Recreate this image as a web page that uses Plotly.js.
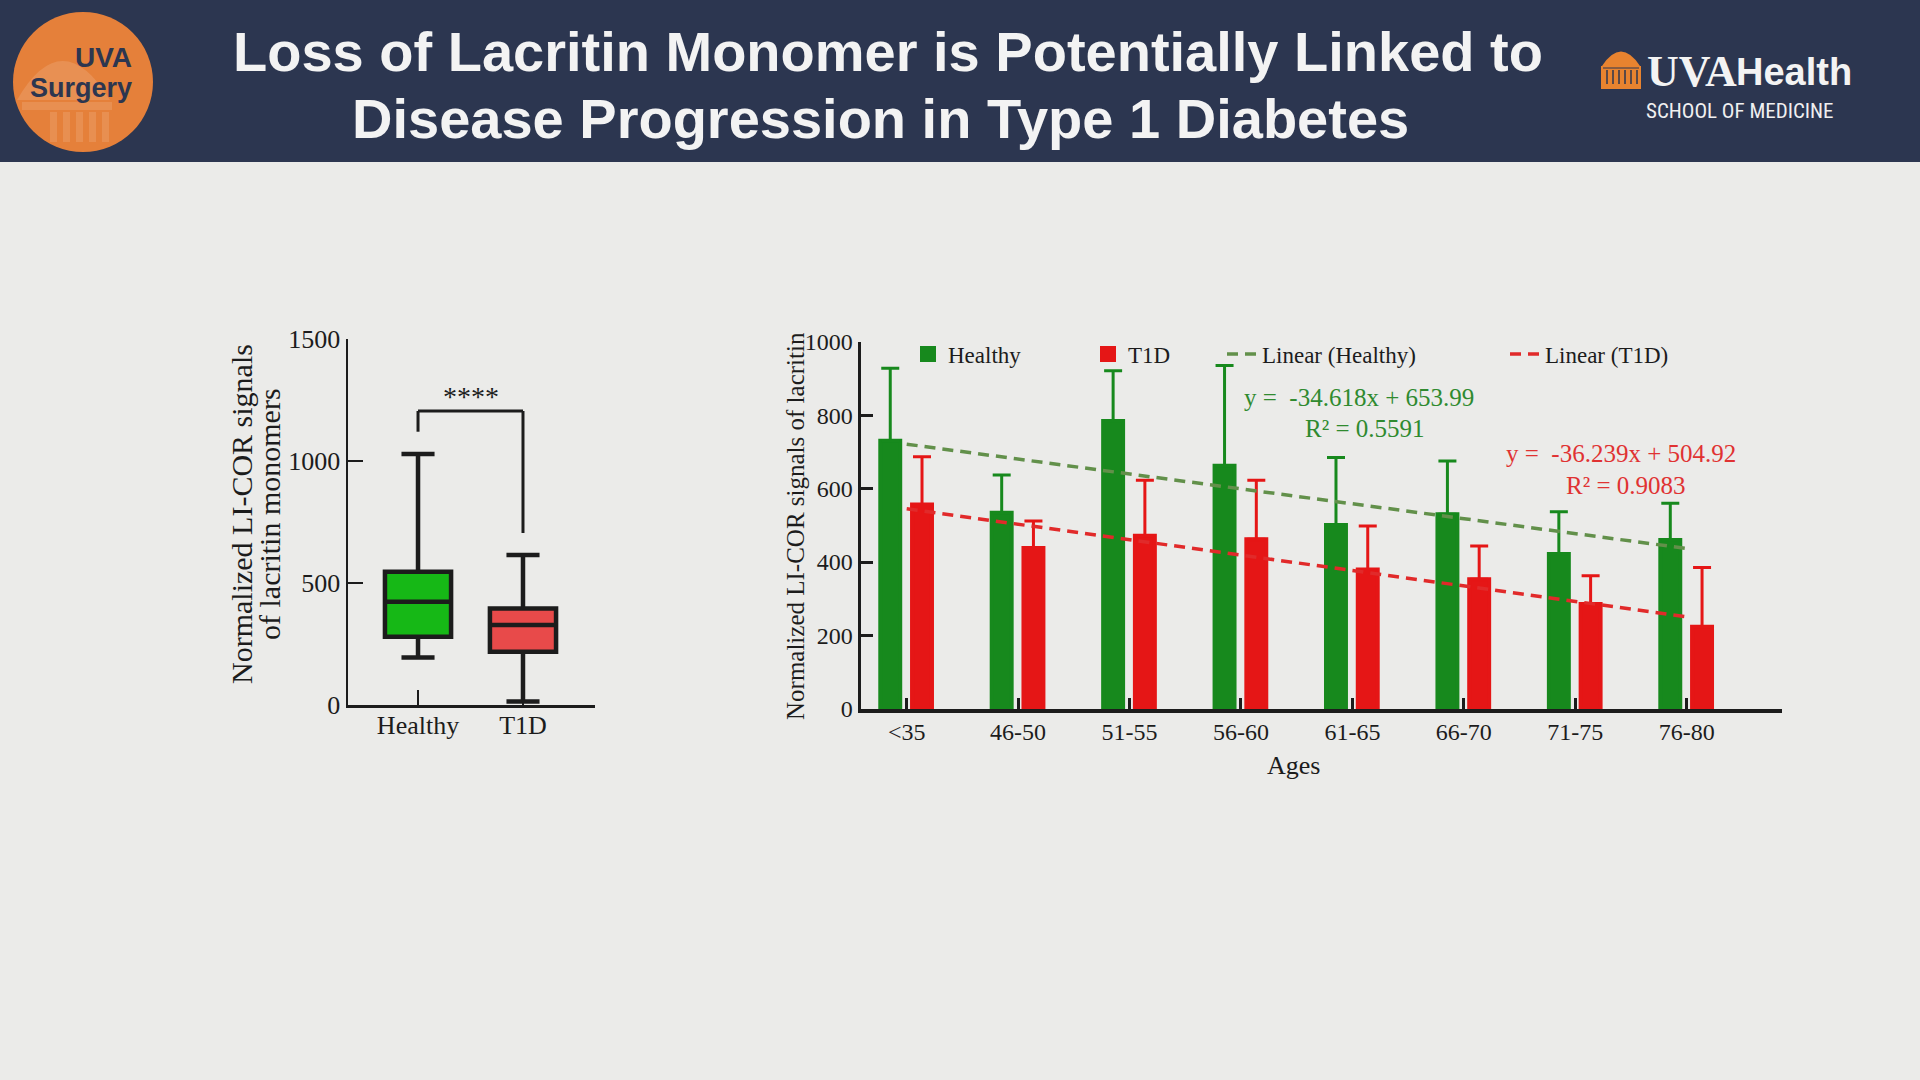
<!DOCTYPE html>
<html>
<head>
<meta charset="utf-8">
<script src="https://cdn.plot.ly/plotly-3.0.1.min.js"></script>
<style>
  html, body { margin: 0; padding: 0; background: #ebebe9; }
  #chart { width: 1920px; height: 1080px; }
</style>
</head>
<body>
<div id="chart"></div>
<script>
// ---------- Data: box plot (overall) ----------
const boxCategories = ['Healthy', 'T1D'];
const boxLower  = [195, 14];
const boxQ1     = [280, 218];
const boxMedian = [423, 328];
const boxQ3     = [546, 396];
const boxUpper  = [1029, 615];
const boxYTicks = [0, 500, 1000, 1500];
// significance bracket: [left foot, top, right foot]
const bracketY = [1120, 1205, 705];
const bracketLabel = '****';

// ---------- Data: bar chart by age ----------
const ageCategories = ['<35', '46-50', '51-55', '56-60', '61-65', '66-70', '71-75', '76-80'];
const healthyMeans = [730, 534, 784, 662, 501, 530, 422, 460];
const healthySD    = [198, 103, 137, 273, 184, 145, 115, 100];
const t1dMeans     = [557, 438, 472, 462, 380, 353, 286, 224];
const t1dSD        = [130, 74, 151, 161, 118, 91, 77, 161];
const trendX       = ['<35', '76-80'];
const trendHealthy = [721, 437];
const trendT1D     = [545, 251];
const barYTicks = [0, 200, 400, 600, 800, 1000];
const eqHealthy = ['y =\u00a0 -34.618x + 653.99', 'R\u00b2 = 0.5591'];
const eqT1D     = ['y =\u00a0 -36.239x + 504.92', 'R\u00b2 = 0.9083'];
const barXTitle = 'Ages';
const barYTitle = 'Normalized LI-COR signals of lacritin';
const boxYTitle = ['Normalized LI-COR signals', 'of lacritin monomers'];

// ---------- helpers (pixel -> paper) ----------
const W = 1920, H = 1080;
const px = x => x / W;
const py = y => 1 - y / H;

const SERIF = 'Liberation Serif, Times New Roman, serif';
const SANS = 'Liberation Sans, Arial, sans-serif';
const INK = '#1c1c1c';
const NAVY = '#2c3650';
const ORANGE = '#e5803a';

const GREEN_BAR = '#17891d';
const RED_BAR = '#e51616';
const GREEN_BOX = '#16b816';
const RED_BOX = '#e84a4a';

// ---------- traces ----------
const traces = [];

traces.push({
  type: 'box', xaxis: 'x', yaxis: 'y',
  x: [boxCategories[0]], q1: [boxQ1[0]], median: [boxMedian[0]], q3: [boxQ3[0]],
  lowerfence: [boxLower[0]], upperfence: [boxUpper[0]],
  fillcolor: GREEN_BOX, line: { color: INK, width: 4.5 },
  width: 0.63, whiskerwidth: 0.5, boxpoints: false, showlegend: false, hoverinfo: 'skip'
});
traces.push({
  type: 'box', xaxis: 'x', yaxis: 'y',
  x: [boxCategories[1]], q1: [boxQ1[1]], median: [boxMedian[1]], q3: [boxQ3[1]],
  lowerfence: [boxLower[1]], upperfence: [boxUpper[1]],
  fillcolor: RED_BOX, line: { color: INK, width: 4.5 },
  width: 0.63, whiskerwidth: 0.5, boxpoints: false, showlegend: false, hoverinfo: 'skip'
});

traces.push({
  type: 'bar', name: 'Healthy', xaxis: 'x2', yaxis: 'y2',
  x: ageCategories, y: healthyMeans,
  width: 0.179, offset: -0.237,
  marker: { color: GREEN_BAR, line: { width: 4, color: GREEN_BAR } },
  error_y: { type: 'data', symmetric: false, array: healthySD, arrayminus: healthySD.map(() => 0),
             color: GREEN_BAR, thickness: 3, width: 9 },
  legend: 'legend', hoverinfo: 'skip'
});
traces.push({
  type: 'bar', name: 'T1D', xaxis: 'x2', yaxis: 'y2',
  x: ageCategories, y: t1dMeans,
  width: 0.179, offset: 0.048,
  marker: { color: RED_BAR, line: { width: 4, color: RED_BAR } },
  error_y: { type: 'data', symmetric: false, array: t1dSD, arrayminus: t1dSD.map(() => 0),
             color: RED_BAR, thickness: 3, width: 9 },
  legend: 'legend2', hoverinfo: 'skip'
});
traces.push({
  type: 'scatter', mode: 'lines', name: 'Linear (Healthy)', xaxis: 'x2', yaxis: 'y2',
  x: trendX, y: trendHealthy,
  line: { color: '#62904a', width: 3.5, dash: '11px,7px' },
  legend: 'legend3', hoverinfo: 'skip'
});
traces.push({
  type: 'scatter', mode: 'lines', name: 'Linear (T1D)', xaxis: 'x2', yaxis: 'y2',
  x: trendX, y: trendT1D,
  line: { color: '#e12a2a', width: 3.5, dash: '11px,7px' },
  legend: 'legend4', hoverinfo: 'skip'
});

// ---------- shapes ----------
const shapes = [];
// header band
shapes.push({ type: 'rect', xref: 'paper', yref: 'paper', x0: 0, x1: 1, y0: py(162), y1: 1,
  fillcolor: NAVY, line: { width: 0 }, layer: 'below' });
// left logo circle
shapes.push({ type: 'circle', xref: 'paper', yref: 'paper', x0: px(13), x1: px(153), y0: py(152), y1: py(12),
  fillcolor: ORANGE, line: { width: 0 }, layer: 'below' });
// lighter dome inside left logo
shapes.push({ type: 'path', xref: 'paper', yref: 'paper', layer: 'below',
  path: `M ${px(17)},${py(100)} Q ${px(62)},${py(22)} ${px(110)},${py(100)} Z`,
  fillcolor: 'rgba(255,255,255,0.13)', line: { width: 0 } });
shapes.push({ type: 'rect', xref: 'paper', yref: 'paper', layer: 'below',
  x0: px(22), x1: px(112), y0: py(110), y1: py(102),
  fillcolor: 'rgba(255,255,255,0.12)', line: { width: 0 } });
[50, 63, 76, 89, 102].forEach(cx => {
  shapes.push({ type: 'rect', xref: 'paper', yref: 'paper', layer: 'below',
    x0: px(cx), x1: px(cx + 7), y0: py(142), y1: py(112),
    fillcolor: 'rgba(255,255,255,0.12)', line: { width: 0 } });
});
// right logo dome icon
shapes.push({ type: 'path', xref: 'paper', yref: 'paper',
  path: `M ${px(1602)},${py(66)} Q ${px(1621)},${py(37)} ${px(1640)},${py(66)} Z`,
  fillcolor: '#e8832f', line: { width: 0 } });
shapes.push({ type: 'rect', xref: 'paper', yref: 'paper', x0: px(1601), x1: px(1641), y0: py(89), y1: py(66),
  fillcolor: '#e8832f', line: { width: 0 } });
[1607, 1613, 1619, 1625, 1631, 1637].forEach(cx => {
  shapes.push({ type: 'line', xref: 'paper', yref: 'paper', x0: px(cx), x1: px(cx), y0: py(84), y1: py(70),
    line: { color: NAVY, width: 1.5 } });
});
shapes.push({ type: 'line', xref: 'paper', yref: 'paper', x0: px(1603), x1: px(1639), y0: py(68), y1: py(68),
  line: { color: NAVY, width: 1.2 } });
// significance bracket (data coordinates on the box axes)
shapes.push({ type: 'line', xref: 'x', yref: 'y', x0: 0, x1: 0, y0: bracketY[0], y1: bracketY[1], line: { color: INK, width: 3 } });
shapes.push({ type: 'line', xref: 'x', yref: 'y', x0: 0, x1: 1, y0: bracketY[1], y1: bracketY[1], line: { color: INK, width: 3 } });
shapes.push({ type: 'line', xref: 'x', yref: 'y', x0: 1, x1: 1, y0: bracketY[1], y1: bracketY[2], line: { color: INK, width: 3 } });

// ---------- annotations ----------
const ann = [];
ann.push({ xref: 'paper', yref: 'paper', x: px(888), y: py(51), xanchor: 'center', yanchor: 'middle', showarrow: false,
  text: '<b>Loss of Lacritin Monomer is Potentially Linked to</b>', font: { family: SANS, size: 56, color: '#f3f3f3' } });
ann.push({ xref: 'paper', yref: 'paper', x: px(880), y: py(118), xanchor: 'center', yanchor: 'middle', showarrow: false,
  text: '<b>Disease Progression in Type 1 Diabetes</b>', font: { family: SANS, size: 56, color: '#f3f3f3' } });
// left logo text
ann.push({ xref: 'paper', yref: 'paper', x: px(134), y: py(57), xanchor: 'right', yanchor: 'middle', showarrow: false,
  text: '<b>UVA</b>', font: { family: SANS, size: 28, color: NAVY } });
ann.push({ xref: 'paper', yref: 'paper', x: px(134), y: py(88), xanchor: 'right', yanchor: 'middle', showarrow: false,
  text: '<b>Surgery</b>', font: { family: SANS, size: 27, color: NAVY } });
// right logo text
ann.push({ xref: 'paper', yref: 'paper', x: px(1645), y: py(72), xanchor: 'left', yanchor: 'middle', showarrow: false,
  text: '<b>UVA</b>', font: { family: SERIF, size: 44, color: '#f3f3f3' } });
ann.push({ xref: 'paper', yref: 'paper', x: px(1734), y: py(72), xanchor: 'left', yanchor: 'middle', showarrow: false,
  text: '<b>Health</b>', font: { family: SANS, size: 38, color: '#f3f3f3' } });
ann.push({ xref: 'paper', yref: 'paper', x: px(1740), y: py(111), xanchor: 'center', yanchor: 'middle', showarrow: false,
  text: 'SCHOOL OF MEDICINE', font: { family: 'Liberation Sans Narrow, Roboto Condensed, ' + SANS, size: 21, color: '#f0f0f0' } });
// box y title (two lines)
ann.push({ xref: 'paper', yref: 'paper', x: px(242), y: py(514), xanchor: 'center', yanchor: 'middle', showarrow: false,
  textangle: -90, text: boxYTitle[0], font: { family: SERIF, size: 30, color: INK } });
ann.push({ xref: 'paper', yref: 'paper', x: px(270), y: py(514), xanchor: 'center', yanchor: 'middle', showarrow: false,
  textangle: -90, text: boxYTitle[1], font: { family: SERIF, size: 30, color: INK } });
// bar chart axis titles
ann.push({ xref: 'paper', yref: 'paper', x: px(795), y: py(526), xanchor: 'center', yanchor: 'middle', showarrow: false,
  textangle: -90, text: barYTitle, font: { family: SERIF, size: 25, color: INK } });
ann.push({ xref: 'paper', yref: 'paper', x: px(1293), y: py(765), xanchor: 'center', yanchor: 'middle', showarrow: false,
  text: barXTitle, font: { family: SERIF, size: 26, color: INK } });
// significance stars
ann.push({ xref: 'x', yref: 'y', x: 0.5, y: bracketY[1], xanchor: 'center', yanchor: 'bottom', yshift: -3, showarrow: false,
  text: bracketLabel, font: { family: SERIF, size: 28, color: INK } });
// regression equations
ann.push({ xref: 'paper', yref: 'paper', x: px(1359), y: py(397), xanchor: 'center', yanchor: 'middle', showarrow: false,
  text: eqHealthy[0], font: { family: SERIF, size: 25, color: '#2f8a2f' } });
ann.push({ xref: 'paper', yref: 'paper', x: px(1365), y: py(429), xanchor: 'center', yanchor: 'middle', showarrow: false,
  text: eqHealthy[1], font: { family: SERIF, size: 25, color: '#2f8a2f' } });
ann.push({ xref: 'paper', yref: 'paper', x: px(1621), y: py(453), xanchor: 'center', yanchor: 'middle', showarrow: false,
  text: eqT1D[0], font: { family: SERIF, size: 25, color: '#e03232' } });
ann.push({ xref: 'paper', yref: 'paper', x: px(1626), y: py(485), xanchor: 'center', yanchor: 'middle', showarrow: false,
  text: eqT1D[1], font: { family: SERIF, size: 25, color: '#e03232' } });

// ---------- legends ----------
const legendBase = {
  bgcolor: 'rgba(0,0,0,0)', borderwidth: 0, orientation: 'h',
  xref: 'paper', yref: 'paper', xanchor: 'left', yanchor: 'middle',
  font: { family: SERIF, size: 23, color: INK }
};
const legendY = py(354);

const axisCommon = {
  showline: true, linecolor: INK, zeroline: false, showgrid: false,
  ticks: 'inside', tickcolor: INK, fixedrange: true
};

const layout = {
  width: W, height: H, autosize: false,
  margin: { l: 0, r: 0, t: 0, b: 0, pad: 0 },
  paper_bgcolor: '#ebebe9', plot_bgcolor: 'rgba(0,0,0,0)',
  font: { family: SERIF, color: INK },
  hovermode: false,
  barmode: 'overlay',
  xaxis: Object.assign({}, axisCommon, {
    domain: [px(348), px(595)], anchor: 'y', type: 'category',
    range: [-0.667, 1.686], linewidth: 2.5, tickwidth: 2.5, ticklen: 15,
    tickfont: { family: SERIF, size: 26, color: INK }, ticklabelstandoff: -5
  }),
  yaxis: Object.assign({}, axisCommon, {
    domain: [py(705), py(339)], anchor: 'x',
    range: [0, 1500], tickvals: boxYTicks, linewidth: 2.5, tickwidth: 2.5, ticklen: 15,
    tickfont: { family: SERIF, size: 26, color: INK }
  }),
  xaxis2: Object.assign({}, axisCommon, {
    domain: [px(861), px(1782)], anchor: 'y2', type: 'category',
    range: [-0.41, 7.855], linewidth: 3.5, tickwidth: 3, ticklen: 11,
    tickfont: { family: SERIF, size: 24, color: INK }, ticklabelstandoff: -1
  }),
  yaxis2: Object.assign({}, axisCommon, {
    domain: [py(709), py(341.7)], anchor: 'x2',
    range: [0, 1000], tickvals: barYTicks, linewidth: 3.5, tickwidth: 3, ticklen: 12,
    tickfont: { family: SERIF, size: 24, color: INK }
  }),
  legend:  Object.assign({}, legendBase, { x: px(948 - 40), y: legendY }),
  legend2: Object.assign({}, legendBase, { x: px(1128 - 40), y: legendY }),
  legend3: Object.assign({}, legendBase, { x: px(1262 - 40), y: legendY }),
  legend4: Object.assign({}, legendBase, { x: px(1545 - 40), y: legendY }),
  shapes: shapes,
  annotations: ann
};

Plotly.newPlot('chart', traces, layout, { displayModeBar: false, staticPlot: true });
</script>
</body>
</html>
